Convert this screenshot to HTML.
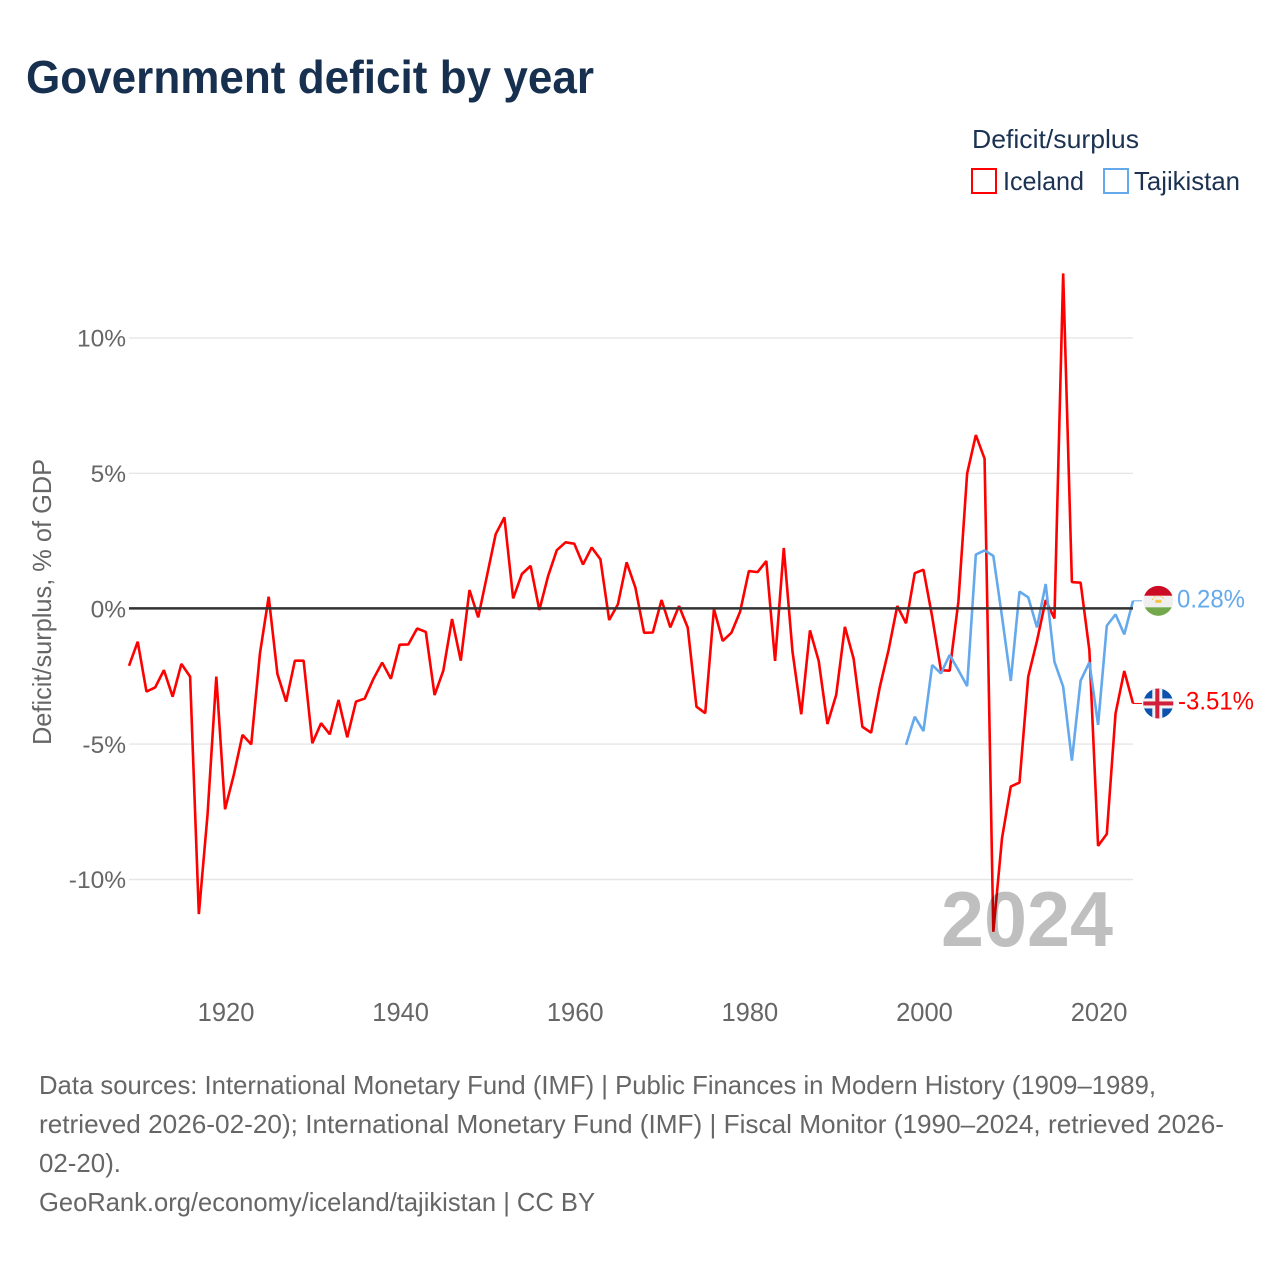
<!DOCTYPE html>
<html lang="en">
<head>
<meta charset="utf-8">
<title>Government deficit by year</title>
<style>
html,body{margin:0;padding:0;background:#fff;}
svg{display:block;font-family:"Liberation Sans",sans-serif;}
</style>
</head>
<body>
<svg id="chart" xmlns="http://www.w3.org/2000/svg" width="1280" height="1280" viewBox="0 0 1280 1280">
  <defs>
    <clipPath id="flag-clip-tj"><circle cx="0" cy="0" r="15"></circle></clipPath>
    <clipPath id="flag-clip-is"><circle cx="0" cy="0" r="15"></circle></clipPath>
  </defs>
  <rect x="0" y="0" width="1280" height="1280" fill="#ffffff"></rect>
  <text x="26" y="93" font-size="46" font-weight="700" fill="#18304f" textLength="568" lengthAdjust="spacingAndGlyphs">Government deficit by year</text>

  <g>
    <text x="972" y="148" font-size="26" fill="#1b3252" textLength="167" lengthAdjust="spacingAndGlyphs">Deficit/surplus</text>
    <g>
      <rect x="972" y="169" width="24" height="24" fill="none" stroke="#ff0000" stroke-width="2"></rect>
      <text x="1003" y="190" font-size="26" fill="#1b3252" textLength="81" lengthAdjust="spacingAndGlyphs">Iceland</text>
    </g>
    <g>
      <rect x="1104" y="169" width="24" height="24" fill="none" stroke="#64a9ec" stroke-width="2"></rect>
      <text x="1134" y="190" font-size="26" fill="#1b3252" textLength="106" lengthAdjust="spacingAndGlyphs">Tajikistan</text>
    </g>
  </g>

  <text transform="translate(51,745) rotate(-90)" x="0" y="0" font-size="26" fill="#666666" textLength="286" lengthAdjust="spacingAndGlyphs">Deficit/surplus, % of GDP</text>

  <g id="grid"></g>
  <g id="y-ticks"></g>
  <g id="x-ticks"></g>
  <g id="series"></g>
  <g id="zero"></g>

  <text x="941" y="946" font-size="78" font-weight="700" fill="#bfbfbf" style="mix-blend-mode:multiply" textLength="172" lengthAdjust="spacingAndGlyphs">2024</text>

  <g id="end-tj">
    <g clip-path="url(#flag-clip-tj)">
      <rect x="-16" y="-16" width="32" height="11" fill="#cc0c25"></rect>
      <rect x="-16" y="-5" width="32" height="11.5" fill="#efefef"></rect>
      <rect x="-16" y="6.5" width="32" height="10" fill="#74a84c"></rect>
      <rect x="-3" y="-1" width="6" height="3" fill="#f5c242"></rect>
      <path d="M-6 -1 A6.5 6.5 0 0 1 6 -1" fill="none" stroke="#f5c242" stroke-width="1" stroke-dasharray="1.5 1.5"></path>
    </g>
  </g>
  <g id="end-is">
    <g clip-path="url(#flag-clip-is)">
      <rect x="-16" y="-16" width="32" height="32" fill="#0a52ae"></rect>
      <rect x="-16" y="-5" width="32" height="10" fill="#f2f2f2"></rect>
      <rect x="-6" y="-16" width="10" height="32" fill="#f2f2f2"></rect>
      <rect x="-16" y="-2" width="32" height="4" fill="#d21f3c"></rect>
      <rect x="-3" y="-16" width="4" height="32" fill="#d21f3c"></rect>
    </g>
  </g>

  <g font-size="25.6" fill="#666666">
    <text x="39" y="1094" textLength="1117" lengthAdjust="spacingAndGlyphs">Data sources: International Monetary Fund (IMF) | Public Finances in Modern History (1909–1989,</text>
    <text x="39" y="1133" textLength="1185" lengthAdjust="spacingAndGlyphs">retrieved 2026-02-20); International Monetary Fund (IMF) | Fiscal Monitor (1990–2024, retrieved 2026-</text>
    <text x="39" y="1172" textLength="82" lengthAdjust="spacingAndGlyphs">02-20).</text>
    <text x="39" y="1211" textLength="556" lengthAdjust="spacingAndGlyphs">GeoRank.org/economy/iceland/tajikistan | CC BY</text>
  </g>
</svg>

<script>
const icelandStartYear = 1909;
const icelandValues = [
  -2.12, -1.23, -3.07, -2.92, -2.28, -3.26, -2.05, -2.52, -11.29, -7.6,
  -2.52, -7.42, -6.15, -4.67, -5.02, -1.66, 0.43, -2.42, -3.44, -1.93,
  -1.93, -4.98, -4.24, -4.65, -3.38, -4.76, -3.44, -3.33, -2.6, -2.0,
  -2.6, -1.34, -1.33, -0.74, -0.87, -3.2, -2.3, -0.39, -1.93, 0.68,
  -0.33, 1.2, 2.74, 3.36, 0.37, 1.27, 1.57, -0.06, 1.19, 2.15,
  2.44, 2.39, 1.62, 2.25, 1.81, -0.43, 0.15, 1.7, 0.77, -0.9,
  -0.89, 0.31, -0.7, 0.09, -0.71, -3.63, -3.87, -0.02, -1.2, -0.9,
  -0.12, 1.38, 1.34, 1.75, -1.94, 2.23, -1.6, -3.91, -0.81, -1.94,
  -4.27, -3.2, -0.68, -1.86, -4.37, -4.59, -2.9, -1.54, 0.09, -0.55,
  1.3, 1.43, -0.31, -2.28, -2.3, 0.25, 4.98, 6.4, 5.53, -11.94,
  -8.48, -6.58, -6.43, -2.52, -1.2, 0.31, -0.37, 12.37, 0.97, 0.95,
  -1.54, -8.77, -8.33, -3.88, -2.31, -3.51
];
const tajikistanStartYear = 1998;
const tajikistanValues = [
  -5.04, -4.0, -4.53, -2.09, -2.4, -1.72, -2.28, -2.87, 1.99, 2.14,
  1.94, -0.31, -2.68, 0.62, 0.41, -0.7, 0.9, -1.97, -2.89, -5.62,
  -2.67, -1.99, -4.3, -0.64, -0.22, -0.96, 0.28
];
const yTickValues = [10, 5, 0, -5, -10];
const xTickYears = [1920, 1940, 1960, 1980, 2000, 2020];

const svgNS = 'http://www.w3.org/2000/svg';
const RED = '#ff0000';
const BLUE = '#64a9ec';
const PLOT_LEFT = 129;
const PLOT_RIGHT = 1133;
const YEAR_MIN = 1909;
const YEAR_MAX = 2024;
const ZERO_Y = 608.4;
const PX_PER_PERCENT = 27.08;

function xScale(year) {
  return PLOT_LEFT + (year - YEAR_MIN) * (PLOT_RIGHT - PLOT_LEFT) / (YEAR_MAX - YEAR_MIN);
}
function yScale(value) {
  return ZERO_Y - value * PX_PER_PERCENT;
}
function linePoints(startYear, values) {
  return values.map(function (v, i) {
    return xScale(startYear + i).toFixed(2) + ',' + yScale(v).toFixed(2);
  }).join(' ');
}

const grid = document.getElementById('grid');
const yTicksGroup = document.getElementById('y-ticks');
yTickValues.forEach(function (tick) {
  if (tick !== 0) {
    const line = document.createElementNS(svgNS, 'line');
    
    
    line.setAttribute('x1', PLOT_LEFT);
    line.setAttribute('x2', PLOT_RIGHT);
    line.setAttribute('y1', yScale(tick) + 0.3);
    line.setAttribute('y2', yScale(tick) + 0.3);
    line.setAttribute('stroke', '#e6e6e6');
    line.setAttribute('stroke-width', '1.4');
    grid.appendChild(line);
  }
  const label = document.createElementNS(svgNS, 'text');
  
  
  label.setAttribute('x', 126);
  label.setAttribute('y', yScale(tick) + 9);
  label.setAttribute('text-anchor', 'end');
  label.setAttribute('font-size', '24.5');
  label.setAttribute('fill', '#666666');
  label.textContent = tick + '%';
  yTicksGroup.appendChild(label);
});

const xTicksGroup = document.getElementById('x-ticks');
xTickYears.forEach(function (year) {
  const label = document.createElementNS(svgNS, 'text');
  
  
  label.setAttribute('x', xScale(year) + 1);
  label.setAttribute('y', 1021);
  label.setAttribute('text-anchor', 'middle');
  label.setAttribute('font-size', '25.5');
  label.setAttribute('fill', '#666666');
  label.textContent = year;
  xTicksGroup.appendChild(label);
});

const seriesGroup = document.getElementById('series');

const icelandLine = document.createElementNS(svgNS, 'polyline');


icelandLine.setAttribute('points', linePoints(icelandStartYear, icelandValues));
icelandLine.setAttribute('fill', 'none');
icelandLine.setAttribute('stroke', RED);
icelandLine.setAttribute('stroke-width', '2.6');
icelandLine.setAttribute('stroke-linejoin', 'bevel');
seriesGroup.appendChild(icelandLine);

const tajikistanLine = document.createElementNS(svgNS, 'polyline');


tajikistanLine.setAttribute('points', linePoints(tajikistanStartYear, tajikistanValues));
tajikistanLine.setAttribute('fill', 'none');
tajikistanLine.setAttribute('stroke', BLUE);
tajikistanLine.setAttribute('stroke-width', '2.6');
tajikistanLine.setAttribute('stroke-linejoin', 'bevel');
seriesGroup.appendChild(tajikistanLine);

const zeroLine = document.createElementNS(svgNS, 'line');


zeroLine.setAttribute('x1', PLOT_LEFT);
zeroLine.setAttribute('x2', PLOT_RIGHT);
zeroLine.setAttribute('y1', yScale(0));
zeroLine.setAttribute('y2', yScale(0));
zeroLine.setAttribute('stroke', '#333333');
zeroLine.setAttribute('stroke-width', '2.5');
document.getElementById('zero').appendChild(zeroLine);

const tjLast = tajikistanValues[tajikistanValues.length - 1];
const isLast = icelandValues[icelandValues.length - 1];

const tjFlagGroup = document.getElementById('end-tj');
const tjFlag = tjFlagGroup.firstElementChild;
tjFlag.setAttribute('transform', 'translate(1158.3,' + yScale(tjLast) + ')');

const tjConnector = document.createElementNS(svgNS, 'line');


tjConnector.setAttribute('x1', PLOT_RIGHT);
tjConnector.setAttribute('x2', 1142);
tjConnector.setAttribute('y1', yScale(tjLast));
tjConnector.setAttribute('y2', yScale(tjLast));
tjConnector.setAttribute('stroke', BLUE);
tjConnector.setAttribute('stroke-width', '1');
tjFlagGroup.appendChild(tjConnector);

const tjValueLabel = document.createElementNS(svgNS, 'text');


tjValueLabel.setAttribute('x', 1177);
tjValueLabel.setAttribute('y', yScale(tjLast) + 6.5);
tjValueLabel.setAttribute('font-size', '25');
tjValueLabel.setAttribute('fill', BLUE);
tjValueLabel.setAttribute('textLength', '68');
tjValueLabel.setAttribute('lengthAdjust', 'spacingAndGlyphs');
tjValueLabel.textContent = tjLast.toFixed(2) + '%';
tjFlagGroup.appendChild(tjValueLabel);

const isFlagGroup = document.getElementById('end-is');
const isFlag = isFlagGroup.firstElementChild;
isFlag.setAttribute('transform', 'translate(1158.3,' + yScale(isLast) + ')');

const isConnector = document.createElementNS(svgNS, 'line');


isConnector.setAttribute('x1', PLOT_RIGHT);
isConnector.setAttribute('x2', 1142);
isConnector.setAttribute('y1', yScale(isLast));
isConnector.setAttribute('y2', yScale(isLast));
isConnector.setAttribute('stroke', RED);
isConnector.setAttribute('stroke-width', '1');
isFlagGroup.appendChild(isConnector);

const isValueLabel = document.createElementNS(svgNS, 'text');


isValueLabel.setAttribute('x', 1178);
isValueLabel.setAttribute('y', yScale(isLast) + 6);
isValueLabel.setAttribute('font-size', '25');
isValueLabel.setAttribute('fill', RED);
isValueLabel.setAttribute('textLength', '76');
isValueLabel.setAttribute('lengthAdjust', 'spacingAndGlyphs');
isValueLabel.textContent = isLast.toFixed(2) + '%';
isFlagGroup.appendChild(isValueLabel);
</script>
</body>
</html>
